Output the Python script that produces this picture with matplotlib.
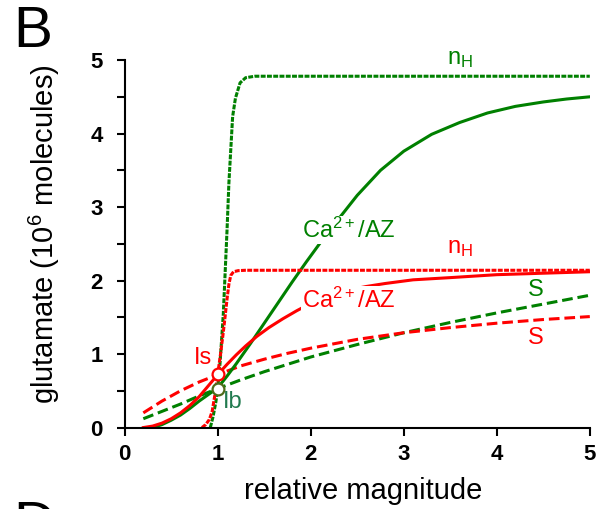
import matplotlib
matplotlib.use("Agg")
import matplotlib.pyplot as plt
from matplotlib.ticker import MultipleLocator

plt.rcParams["font.family"] = ["Liberation Sans", "DejaVu Sans"]
plt.rcParams["mathtext.fontset"] = "custom"
plt.rcParams["mathtext.rm"] = "Liberation Sans"
plt.rcParams["mathtext.it"] = "Liberation Sans:italic"

GREEN = "#008000"
RED = "#ff0000"

# ── data ────────────────────────────────────────────────────────
# steep Hill curves (n_H)
nh_green_x = [0.92, 0.95, 0.98, 1.00, 1.025, 1.06, 1.10, 1.12, 1.14, 1.16, 1.19, 1.24, 1.30, 1.40, 5.00]
nh_green_y = [0.00, 0.15, 0.35, 0.54, 0.88, 1.55, 2.69, 3.33, 3.78, 4.23, 4.48, 4.69, 4.76, 4.78, 4.78]
nh_red_x = [0.83, 0.87, 0.91, 0.94, 0.97, 1.00, 1.03, 1.06, 1.08, 1.10, 1.12, 1.14, 1.17, 1.22, 1.30, 5.00]
nh_red_y = [0.00, 0.04, 0.11, 0.22, 0.45, 0.73, 1.00, 1.30, 1.52, 1.75, 1.95, 2.07, 2.12, 2.135, 2.14, 2.14]

# Ca2+/AZ curves
ca_green_x = [0.30, 0.40, 0.50, 0.60, 0.70, 0.80, 0.90, 1.00, 1.10, 1.20, 1.35, 1.50, 1.65, 1.80,
              1.95, 2.10, 2.30, 2.50, 2.75, 3.00, 3.30, 3.60, 3.90, 4.20, 4.50, 4.75, 5.00]
ca_green_y = [0.00, 0.04, 0.10, 0.17, 0.26, 0.36, 0.45, 0.54, 0.70, 0.87, 1.14, 1.42, 1.70, 1.98,
              2.25, 2.51, 2.84, 3.16, 3.50, 3.76, 3.99, 4.15, 4.28, 4.37, 4.43, 4.47, 4.50]
ca_red_x = [0.20, 0.30, 0.40, 0.50, 0.60, 0.70, 0.80, 0.90, 1.00, 1.10, 1.20, 1.30, 1.42, 1.55,
            1.70, 1.85, 2.00, 2.20, 2.40, 2.60, 2.80, 3.10, 3.50, 4.00, 4.50, 5.00]
ca_red_y = [0.00, 0.02, 0.06, 0.12, 0.20, 0.30, 0.42, 0.57, 0.72, 0.86, 0.99, 1.11, 1.24, 1.36,
            1.48, 1.59, 1.69, 1.79, 1.87, 1.92, 1.96, 2.01, 2.04, 2.08, 2.10, 2.12]

# S curves
s_x = [0.2, 0.4, 0.6, 0.8, 1.0, 1.25, 1.5, 1.75, 2.0, 2.5, 3.0, 3.5, 4.0, 4.5, 5.0]
s_green_y = [0.12, 0.22, 0.32, 0.43, 0.53, 0.65, 0.76, 0.86, 0.96, 1.13, 1.29, 1.43, 1.56, 1.68, 1.80]
s_red_y = [0.20, 0.36, 0.50, 0.62, 0.72, 0.84, 0.93, 1.01, 1.08, 1.20, 1.29, 1.36, 1.42, 1.47, 1.51]

# intersection points Is / Ib
pt_x = [1.0, 1.0]
pt_y = [0.73, 0.53]

ticks = [0, 1, 2, 3, 4, 5]
tick_labels = ["0", "1", "2", "3", "4", "5"]

# ── figure ───────────────────────────────────────────────────────
fig = plt.figure(figsize=(6.04, 5.09), dpi=100)
ax = fig.add_axes([0.2065, 0.160, 0.770, 0.722])

lw = 2.2
ax.plot(s_x, s_green_y, color=GREEN, lw=lw, ls=(0, (3.5, 1.6)))
ax.plot(s_x, s_red_y, color=RED, lw=lw, ls=(0, (3.5, 1.6)))
ax.plot(ca_green_x, ca_green_y, color=GREEN, lw=lw)
ax.plot(ca_red_x, ca_red_y, color=RED, lw=lw)
ax.plot(nh_green_x, nh_green_y, color=GREEN, lw=lw, ls=(0, (1.6, 0.45)))
ax.plot(nh_red_x, nh_red_y, color=RED, lw=lw, ls=(0, (1.6, 0.45)))

ax.plot(pt_x[0], pt_y[0], "o", ms=8.5, mfc="white", mec=RED, mew=1.6, zorder=5)
ax.plot(pt_x[1], pt_y[1], "o", ms=8.5, mfc="white", mec="#4f6b1a", mew=1.6, zorder=5)

# in-plot labels
fs = 17
box = dict(facecolor="white", edgecolor="none", pad=1.0)
ax.text(2.41, 2.69, "Ca$^{2+}$/AZ", color=GREEN, fontsize=fs, ha="center", va="center",
        bbox=box, zorder=4)
ax.text(2.41, 1.73, "Ca$^{2+}$/AZ", color=RED, fontsize=fs, ha="center", va="center",
        bbox=box, zorder=4)
ax.text(3.46, 4.95, "n$_{\\mathrm{H}}$", color=GREEN, fontsize=fs, ha="left", va="baseline")
ax.text(3.46, 2.37, "n$_{\\mathrm{H}}$", color=RED, fontsize=fs, ha="left", va="baseline")
ax.text(4.42, 1.87, "S", color=GREEN, fontsize=fs, ha="center", va="center")
ax.text(4.42, 1.22, "S", color=RED, fontsize=fs, ha="center", va="center")
ax.text(0.84, 0.945, "Is", color=RED, fontsize=fs, ha="center", va="center")
ax.text(1.165, 0.35, "Ib", color="#217a4f", fontsize=fs, ha="center", va="center")

# axes styling
ax.set_xlim(0, 5)
ax.set_ylim(0, 5)
ax.spines[["top", "right"]].set_visible(False)
for s in ["left", "bottom"]:
    ax.spines[s].set_linewidth(1.5)
ax.set_xticks(ticks)
ax.set_xticklabels(tick_labels, fontweight="bold", fontsize=16)
ax.set_yticks(ticks)
ax.set_yticklabels(tick_labels, fontweight="bold", fontsize=16)
ax.yaxis.set_minor_locator(MultipleLocator(0.5))
ax.tick_params(which="both", direction="out", length=6, width=1.5)
ax.tick_params(axis="y", which="major", pad=10)
ax.tick_params(axis="x", which="major", pad=6)

ax.set_xlabel("relative magnitude", fontsize=21)
ax.xaxis.set_label_coords(0.512, -0.135)
ax.set_ylabel("glutamate (10$^{6}$ molecules)", fontsize=21)
ax.yaxis.set_label_coords(-0.135, 0.527)

fig.text(13 / 604, 1 - 5 / 509, "B", fontsize=42, ha="left", va="top")
fig.text(13 / 604, 9 / 509, "D", fontsize=42, ha="left", va="top")

fig.savefig("out.png", dpi=100)
